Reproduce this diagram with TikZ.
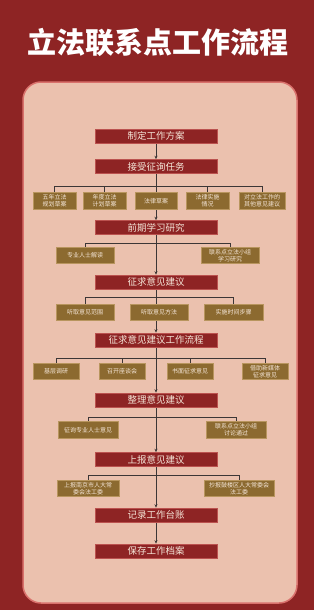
\documentclass[tikz,border=0pt]{standalone}
\usepackage{fontspec}
\setmainfont{Noto Sans CJK SC}
\usetikzlibrary{arrows.meta,backgrounds}
\definecolor{Wine}{HTML}{8E2424}
\definecolor{Panel}{HTML}{EBC1AE}
\definecolor{Edge}{HTML}{D9716C}
\definecolor{Bronze}{HTML}{8C6A30}
\definecolor{BronzeEdge}{HTML}{B8955E}
\definecolor{Cream}{HTML}{F5E6D8}
\definecolor{Wire}{HTML}{3C3636}
\tikzset{mainbox/.style={draw=Edge!60!Wine,fill=Wine,line width=.6pt,minimum width=122pt,minimum height=14pt,inner sep=0pt,text=Cream,font=\fontsize{9.5}{10}\selectfont},subbox/.style={draw=BronzeEdge,fill=Bronze,line width=.6pt,minimum height=16.5pt,inner sep=0pt,align=center,text=Cream,font=\fontsize{6}{7}\selectfont},link/.style={draw=Wire,line width=.7pt},flow/.style={link,-{Stealth[length=3.5pt,width=3pt]}}}

\begin{document}
\begin{tikzpicture}[x=1pt,y=-1pt]
\useasboundingbox (0,0) rectangle (314,610);
\node[text=white,font=\fontsize{29}{30}\selectfont\bfseries] (title) at (158,42) {立法联系点工作流程};
% main steps
\foreach \n/\y/\t in {m1/136/制定工作方案,m2/166.5/接受征询任务,m3/227.5/前期学习研究,m4/282/征求意见建议,m5/340/征求意见建议工作流程,m6/400/整理意见建议,m7/459.5/上报意见建议,m8/515/记录工作台账,m9/551/保存工作档案}{\node[mainbox] (\n) at (156,\y) {\t};}
% branches
\foreach \n/\x/\y/\w/\t in {a1/54.5/201/43/{五年立法\\规划草案},a2/104.5/201/43/{年度立法\\计划草案},a3/156/201/42/法律草案,a4/207.5/201/43/{法律实施\\情况},a5/262/201/46/{对立法工作的\\其他意见建议},b1/85/255.5/58/专业人士解读,b2/230/255.5/58/{联系点立法小组\\学习研究},c1/85/312.5/58/听取意见范围,c2/159/312.5/58/听取意见方法,c3/233.5/312.5/59/实施时间步骤,d1/56/371.5/46/基层调研,d2/122/371.5/46/召开座谈会,d3/190/371.5/46/书面征求意见,d4/265/371.5/46/{借助新媒体\\征求意见},e1/88/430/60/征询专业人士意见,e2/236/430/60/{联系点立法小组\\讨论通过},f1/88/488.5/62/{上报南京市人大常\\委会法工委},f2/239/488.5/70/{抄报鼓楼区人大常委会\\法工委}}{\node[subbox,minimum width=\w pt] (\n) at (\x,\y) {\t};}
\coordinate (ja) at (156,186);
\coordinate (jb) at (156,243);
\coordinate (jc) at (156,297);
\coordinate (jd) at (156,358);
\coordinate (je) at (156,417);
\coordinate (jf) at (156,475);
\begin{scope}[on background layer]
\fill[Wine] (0,0) rectangle (314,610);
\filldraw[fill=Panel,draw=Edge,line width=1.5pt,rounded corners=18pt] (23,82) rectangle (297,603);
\foreach \a/\b in {m1/m2,m2/m3,m3/m4,m4/m5,m5/m6,m6/m7,m7/m8,m8/m9}{\draw[flow] (\a) -- (\b);}
\foreach \s/\j in {a1/ja,a2/ja,a4/ja,a5/ja,b1/jb,b2/jb,c1/jc,c3/jc,d1/jd,d2/jd,d3/jd,d4/jd,e1/je,e2/je,f1/jf,f2/jf}{\draw[link] (\s.north) |- (\j);}
\end{scope}
\end{tikzpicture}
\end{document}
